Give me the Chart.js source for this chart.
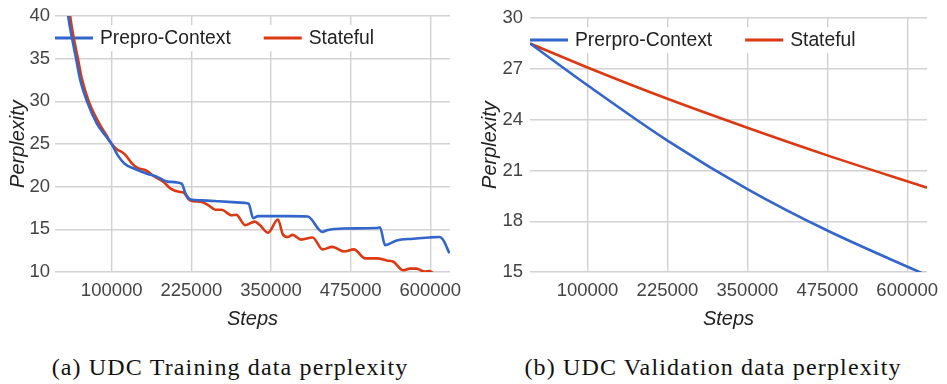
<!DOCTYPE html>
<html>
<head>
<meta charset="utf-8">
<title>UDC perplexity</title>
<script src="https://cdn.jsdelivr.net/npm/chart.js@4.4.1/dist/chart.umd.min.js"></script>
<style>
  html, body { margin: 0; padding: 0; background: #fff; width: 947px; height: 384px; overflow: hidden; }
  #trainBox { position: absolute; left: 0; top: 0; width: 470px; height: 340px; }
  #validBox { position: absolute; left: 470px; top: 0; width: 477px; height: 340px; }
  .cap { position: absolute; top: 354px; width: 460px; text-align: center; white-space: nowrap;
         font-family: "Liberation Serif", "Times New Roman", serif; font-size: 24px; letter-spacing: 1.15px;
         line-height: 26px; color: #111; }
</style>
</head>
<body>
<div id="trainBox"><canvas id="trainChart" width="470" height="340"></canvas></div>
<div id="validBox"><canvas id="validChart" width="477" height="340"></canvas></div>
<div class="cap" style="left:0px">(a) UDC Training data perplexity</div>
<div class="cap" style="left:483px">(b) UDC Validation data perplexity</div>

<script>
// ---- training run (a) ----
const preproSteps = [20000, 31700, 38000, 44100, 50300, 61200, 76700, 90000, 100000, 109300, 120200, 135800,
  156400, 170000, 187400, 209800, 216000, 223800, 241300, 267700, 309200, 315000, 322100, 329800, 376400,
  407500, 430800, 438000, 464500, 516200, 521000, 529100, 547300, 573200, 598900, 614500, 619800, 630000];
const preproTrainPpl = [49, 40, 37.3, 35, 32.6, 30, 27.4, 26.0, 25.0, 23.7, 22.7, 22.1,
  21.5, 21.2, 20.6, 20.35, 19.2, 18.5, 18.4, 18.3, 18.1, 18.0, 16.3, 16.55, 16.55,
  16.5, 14.7, 14.9, 15.1, 15.15, 15.25, 13.15, 13.7, 13.9, 14.05, 14.1, 13.8, 12.2];

const statefulSteps = [20000, 34800, 40000, 47000, 53000, 64000, 79000, 92000, 100000, 108000, 117100, 124000,
  131000, 140400, 153900, 166800, 182300, 192000, 205600, 213000, 221100, 228000, 241300, 252200, 262600,
  272400, 287900, 295700, 309200, 324700, 332500, 345400, 360900, 368700, 376400, 384200, 397100, 415300,
  430800, 446300, 464500, 480000, 498000, 516200, 531700, 542100, 557600, 567900, 578300, 591200, 598500, 604000];
const statefulTrainPpl = [50, 40, 37.6, 35, 32.7, 30, 27.6, 26.0, 25.0, 24.4, 24.0, 23.5,
  22.8, 22.2, 21.9, 21.2, 20.5, 19.8, 19.4, 19.3, 18.5, 18.3, 18.2, 17.8, 17.3,
  17.3, 16.65, 16.7, 15.5, 15.9, 15.5, 14.6, 16.15, 14.4, 14.1, 14.35, 13.8, 14.05,
  12.65, 12.95, 12.4, 12.65, 11.6, 11.6, 11.35, 11.2, 10.2, 10.4, 10.4, 10.05, 10.1, 9.9];

// ---- validation run (b) ----
const validSteps = [10000, 100000, 225000, 350000, 475000, 631000];
const preproValidPpl = [28.5, 26.03, 22.76, 19.9, 17.45, 14.8];
const statefulValidPpl = [28.5, 27.08, 25.23, 23.52, 21.89, 19.98];

// ---- axis ticks ----
const stepTicks = [100000, 225000, 350000, 475000, 600000];

const BLUE = '#3366cc';
const RED = '#dc3912';
const SANS = '"Liberation Sans", Arial, sans-serif';

const pairUp = (xs, ys) => xs.map((x, i) => ({ x, y: ys[i] }));

// Legend drawn inside the plot, over the grid but under the lines
const inlineLegend = {
  id: 'inlineLegend',
  beforeDatasetsDraw(chart) {
    const { ctx, chartArea } = chart;
    ctx.save();
    ctx.font = '19.3px ' + SANS;
    const y = chartArea.top + 22;
    const seg = 38, gapText = 7, gapItem = 33;
    const items = chart.data.datasets.map(ds => ({
      label: ds.label, color: ds.borderColor, w: ctx.measureText(ds.label).width
    }));
    const total = items.reduce((s, it) => s + seg + gapText + it.w, 0) + gapItem * (items.length - 1);
    let x = chartArea.left;
    ctx.fillStyle = '#fff';
    ctx.fillRect(x, y - 13, total + 4, 26);
    items.forEach(it => {
      ctx.strokeStyle = it.color;
      ctx.lineWidth = 3;
      ctx.beginPath();
      ctx.moveTo(x, y);
      ctx.lineTo(x + seg, y);
      ctx.stroke();
      ctx.fillStyle = '#222';
      ctx.textBaseline = 'middle';
      ctx.textAlign = 'left';
      ctx.fillText(it.label, x + seg + gapText, y + 1);
      x += seg + gapText + it.w + gapItem;
    });
    ctx.restore();
  }
};

function makeOptions(cfg) {
  return {
    responsive: false,
    animation: false,
    devicePixelRatio: 1,
    layout: { padding: { top: 15, right: cfg.padRight, left: 0, bottom: 0 } },
    plugins: { legend: { display: false }, tooltip: { enabled: false } },
    elements: { point: { radius: 0 }, line: { borderWidth: 2.6, cubicInterpolationMode: 'monotone' } },
    scales: {
      x: {
        type: 'linear',
        min: cfg.xMin,
        max: 631000,
        afterBuildTicks(scale) { scale.ticks = stepTicks.map(v => ({ value: v })); },
        afterFit(scale) { scale.height = 68; },
        grid: { color: '#d2d2d2', lineWidth: 1.4, drawTicks: false },
        border: { display: false },
        ticks: {
          padding: 8, color: '#444', font: { family: SANS, size: 18.5 },
          maxRotation: 0, autoSkip: false,
          callback: v => String(v)
        },
        title: {
          display: true, text: 'Steps', color: '#222',
          font: { family: SANS, size: 20, style: 'italic' },
          padding: { top: 0, bottom: 9 }
        }
      },
      y: {
        min: cfg.yMin,
        max: cfg.yMax,
        afterFit(scale) { scale.width = cfg.yWidth; },
        grid: { color: '#d2d2d2', lineWidth: 1.4, drawTicks: false },
        border: { display: false },
        ticks: {
          stepSize: cfg.yStep, padding: cfg.yPad, color: '#444',
          font: { family: SANS, size: 18.5 }
        },
        title: {
          display: true, text: 'Perplexity', color: '#222',
          font: { family: SANS, size: 20, style: 'italic' },
          padding: { top: cfg.titlePad, bottom: 0 }
        }
      }
    }
  };
}

new Chart(document.getElementById('trainChart'), {
  type: 'line',
  data: {
    datasets: [
      { label: 'Prepro-Context', data: pairUp(preproSteps, preproTrainPpl), borderColor: BLUE, backgroundColor: BLUE },
      { label: 'Stateful', data: pairUp(statefulSteps, statefulTrainPpl), borderColor: RED, backgroundColor: RED }
    ]
  },
  options: makeOptions({ xMin: 11000, yMin: 10, yMax: 40, yStep: 5, yWidth: 55, yPad: 5, padRight: 17, titlePad: 6 }),
  plugins: [inlineLegend]
});

new Chart(document.getElementById('validChart'), {
  type: 'line',
  data: {
    datasets: [
      { label: 'Prerpro-Context', data: pairUp(validSteps, preproValidPpl), borderColor: BLUE, backgroundColor: BLUE },
      { label: 'Stateful', data: pairUp(validSteps, statefulValidPpl), borderColor: RED, backgroundColor: RED }
    ]
  },
  options: makeOptions({ xMin: 10000, yMin: 15, yMax: 30, yStep: 3, yWidth: 60, yPad: 7, padRight: 18, titlePad: 8 }),
  plugins: [inlineLegend]
});
</script>
</body>
</html>
